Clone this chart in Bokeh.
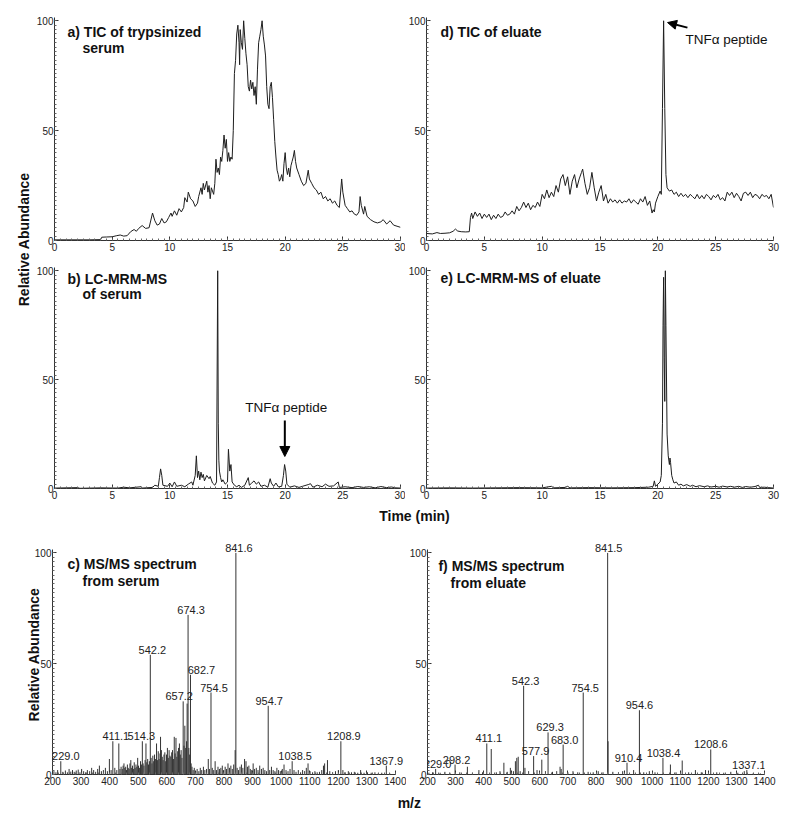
import math
from bokeh.plotting import figure
from bokeh.layouts import row, column
from bokeh.models import Label, Arrow, NormalHead, SingleIntervalTicker, Range1d
from bokeh.embed import file_html
from bokeh.resources import INLINE

FONT = "Liberation Sans"
INK = "#1e1e1e"

# ---------------- data: chromatograms (time in min, relative abundance %) ----------------
a_t = [0.0, 1.0, 2.0, 3.0, 4.0, 4.1, 4.5, 5.0, 5.4, 5.7,
       6.0, 6.3, 6.6, 6.9, 7.1, 7.3, 7.6, 7.9, 8.2, 8.5,
       8.7, 8.9, 9.1, 9.3, 9.5, 9.7, 9.9, 10.1, 10.2, 10.4,
       10.6, 10.8, 11.0, 11.2, 11.3, 11.5, 11.6, 11.8, 12.0, 12.2,
       12.4, 12.5, 12.7, 12.8, 12.9, 13.0, 13.2, 13.3, 13.4, 13.5,
       13.6, 13.8, 13.9, 14.0, 14.1, 14.2, 14.3, 14.4, 14.5, 14.6,
       14.7, 14.8, 14.9, 15.0, 15.1, 15.2, 15.3, 15.4, 15.5, 15.6,
       15.7, 15.8, 15.9, 16.0, 16.05, 16.1, 16.2, 16.3, 16.4, 16.5,
       16.6, 16.7, 16.8, 16.9, 17.0, 17.1, 17.2, 17.3, 17.4, 17.5,
       17.6, 17.7, 17.8, 17.9, 18.0, 18.1, 18.2, 18.3, 18.4, 18.5,
       18.6, 18.7, 18.8, 18.9, 19.0, 19.1, 19.2, 19.3, 19.4, 19.5,
       19.6, 19.7, 19.8, 19.9, 20.0, 20.1, 20.2, 20.3, 20.4, 20.5,
       20.6, 20.7, 20.8, 20.9, 21.0, 21.2, 21.4, 21.6, 21.8, 22.0,
       22.1, 22.3, 22.5, 22.7, 22.9, 23.1, 23.3, 23.5, 23.7, 23.9,
       24.1, 24.3, 24.5, 24.7, 24.9, 25.0, 25.2, 25.4, 25.6, 25.8,
       26.0, 26.2, 26.4, 26.5, 26.6, 26.8, 26.9, 27.1, 27.4, 27.7,
       28.0, 28.3, 28.5, 28.8, 29.1, 29.4, 29.7, 30.0]
a_y = [0.3, 0.3, 0.3, 0.3, 0.4, 1.5, 1.6, 1.7, 2.2, 2.5,
       2.0, 2.2, 4.0, 5.0, 4.2, 5.5, 6.8, 5.5, 5.8, 12.5,
       9.0, 7.0, 7.5, 10.0, 8.0, 8.5, 10.5, 12.5, 11.0, 13.5,
       11.5, 14.5, 13.0, 15.0, 19.5, 17.5, 22.0, 19.0, 18.0, 15.5,
       17.0, 20.0, 24.0, 21.0, 26.0, 23.0, 27.0, 22.0, 25.0, 19.0,
       24.0, 21.0, 26.0, 37.0, 31.0, 33.0, 30.0, 38.0, 36.0, 41.0,
       48.0, 42.0, 46.0, 36.0, 40.0, 36.0, 38.0, 37.0, 50.0, 76.0,
       82.0, 94.0, 98.0, 90.0, 80.0, 96.0, 90.0, 87.0, 100.0, 92.0,
       85.0, 80.0, 70.0, 68.0, 73.0, 69.0, 72.0, 66.0, 70.0, 62.0,
       78.0, 90.0, 93.0, 96.0, 100.0, 93.0, 89.0, 84.0, 70.0, 62.0,
       60.0, 70.0, 72.0, 65.0, 55.0, 45.0, 38.0, 32.0, 30.0, 27.0,
       28.0, 30.0, 27.0, 35.0, 40.0, 33.0, 30.0, 33.0, 29.0, 34.0,
       36.0, 38.0, 41.0, 36.0, 33.0, 30.0, 27.0, 25.0, 26.0, 32.0,
       28.0, 26.0, 24.0, 23.0, 21.0, 22.0, 19.0, 20.0, 18.0, 19.0,
       17.0, 18.0, 16.0, 15.0, 28.0, 22.0, 16.0, 14.5, 13.0, 13.5,
       12.0, 11.5, 13.0, 20.0, 16.0, 12.0, 15.5, 11.0, 9.5, 8.5,
       8.0, 8.5, 9.5, 7.5, 9.0, 7.0, 6.5, 6.0]

b_t = [0.0, 2.0, 2.2, 4.0, 5.5, 6.0, 6.5, 7.5, 7.6, 8.5,
       8.7, 9.0, 9.1, 9.2, 9.3, 9.4, 9.8, 10.0, 10.2, 10.4,
       10.6, 11.0, 11.3, 11.6, 11.9, 12.0, 12.2, 12.3, 12.4, 12.5,
       12.6, 12.7, 12.8, 12.9, 13.0, 13.2, 13.4, 13.5, 13.7, 13.9,
       14.05, 14.15, 14.2, 14.25, 14.3, 14.4, 14.5, 14.6, 14.8, 15.0,
       15.08, 15.2, 15.3, 15.4, 15.6, 15.8, 16.0, 16.2, 16.5, 16.8,
       16.9, 17.1, 17.3, 17.5, 17.7, 17.9, 18.2, 18.5, 18.7, 18.8,
       19.0, 19.2, 19.4, 19.7, 19.85, 19.95, 20.05, 20.15, 20.4, 20.8,
       21.2, 21.5, 22.0, 22.2, 22.4, 22.8, 23.2, 23.5, 23.8, 24.2,
       24.6, 24.7, 25.2, 25.8, 26.3, 26.8, 27.3, 27.8, 28.3, 28.8,
       29.2, 29.6, 30.0]
b_y = [0.2, 0.4, 0.1, 0.3, 0.2, 0.6, 0.3, 0.8, 0.2, 0.5,
       1.5, 1.0, 5.0, 9.0, 6.0, 1.5, 1.0, 2.5, 0.8, 3.0,
       1.0, 1.5, 0.8, 2.0, 3.0, 1.5, 6.0, 15.0, 5.0, 8.0,
       4.0, 7.5, 5.0, 6.5, 3.5, 6.0, 4.5, 5.5, 2.5, 1.5,
       3.0, 100.0, 30.0, 13.0, 8.0, 5.0, 3.0, 4.0, 2.0, 3.0,
       18.0, 8.0, 11.0, 3.0, 1.5, 0.8, 1.5, 0.5, 1.5, 5.0,
       1.5, 2.5, 3.5, 2.0, 3.0, 1.0, 1.5, 0.6, 4.5, 2.5,
       1.0, 2.5, 0.8, 1.0, 6.0, 11.0, 8.0, 2.0, 0.6, 1.2,
       0.5, 1.0, 1.8, 2.2, 0.6, 1.5, 0.8, 2.0, 1.0, 1.2,
       3.0, 0.5, 0.8, 0.4, 0.9, 0.5, 0.8, 0.3, 0.9, 0.4,
       0.7, 0.3, 0.2]

d_t = [0.0, 0.5, 0.9, 1.2, 1.6, 2.0, 2.3, 2.5, 2.7, 3.0,
       3.4, 3.7, 3.8, 3.9, 4.0, 4.2, 4.4, 4.6, 4.8, 5.0,
       5.2, 5.4, 5.6, 5.8, 6.0, 6.2, 6.4, 6.6, 6.8, 7.0,
       7.2, 7.4, 7.6, 7.8, 8.0, 8.2, 8.4, 8.6, 8.8, 9.0,
       9.2, 9.4, 9.6, 9.8, 10.0, 10.2, 10.4, 10.6, 10.8, 11.0,
       11.2, 11.4, 11.6, 11.8, 12.0, 12.2, 12.4, 12.6, 12.8, 13.0,
       13.2, 13.4, 13.5, 13.7, 13.9, 14.1, 14.3, 14.5, 14.7, 14.9,
       15.1, 15.3, 15.5, 15.7, 15.9, 16.1, 16.3, 16.5, 16.7, 16.9,
       17.1, 17.3, 17.5, 17.7, 17.9, 18.1, 18.3, 18.5, 18.7, 18.9,
       19.1, 19.3, 19.5, 19.6, 19.7, 19.8, 20.0, 20.2, 20.3, 20.4,
       20.5, 20.6, 20.7, 20.8, 21.0, 21.2, 21.4, 21.6, 21.8, 22.0,
       22.2, 22.4, 22.6, 22.8, 23.0, 23.2, 23.4, 23.6, 23.8, 24.0,
       24.2, 24.4, 24.6, 24.8, 25.0, 25.2, 25.4, 25.6, 25.8, 26.0,
       26.2, 26.4, 26.6, 26.8, 27.0, 27.2, 27.4, 27.6, 27.8, 28.0,
       28.2, 28.4, 28.6, 28.8, 29.0, 29.2, 29.4, 29.6, 29.8, 30.0]
d_y = [3.2, 3.0, 3.6, 3.2, 3.3, 3.5, 4.2, 5.2, 4.3, 4.0,
       3.9, 4.0, 10.5, 12.5, 10.0, 13.0, 11.0, 12.5, 10.0, 12.0,
       10.5, 12.0, 9.5, 11.5, 10.0, 12.0, 10.5, 11.0, 13.0, 11.5,
       12.0, 13.5, 12.0, 15.5, 13.5, 15.0, 17.5, 15.0, 17.0, 14.0,
       16.0, 15.0, 17.5, 15.5, 21.0, 19.0, 23.0, 19.5, 22.0, 20.0,
       25.0, 22.0, 28.0, 30.0, 25.0, 29.0, 21.0, 27.0, 30.0, 24.0,
       28.0, 31.0, 32.5, 26.0, 21.0, 24.0, 31.0, 24.0, 18.0, 22.0,
       25.0, 18.0, 21.0, 17.0, 19.0, 17.5, 18.5, 17.0, 18.5, 17.0,
       18.0, 17.5, 19.0, 17.0, 18.5, 17.5, 16.5, 19.0, 17.5, 20.0,
       16.0, 18.0, 12.5, 14.0, 13.0, 17.0, 20.0, 22.5, 21.0, 60.0,
       100.0, 60.0, 30.0, 24.0, 22.5, 23.0, 21.0, 22.0, 20.0, 21.5,
       20.0, 21.0, 19.5, 21.0, 20.0, 19.0, 21.0, 19.0, 20.5, 19.0,
       21.0, 20.0, 18.5, 20.5, 19.5, 21.0, 18.5, 19.5, 18.0, 22.0,
       20.5, 22.0, 19.5, 21.5, 20.0, 18.0, 21.5, 22.0, 20.5, 22.0,
       19.5, 21.0, 20.5, 19.0, 21.0, 20.0, 20.5, 19.0, 21.0, 15.0]

e_t = [0.0, 2.0, 4.0, 6.0, 8.0, 10.0, 10.8, 11.0, 12.0, 12.2,
       12.4, 14.0, 16.0, 18.0, 19.2, 19.6, 19.7, 19.8, 20.0, 20.2,
       20.3, 20.4, 20.45, 20.5, 20.55, 20.6, 20.65, 20.7, 20.8, 20.9,
       21.0, 21.05, 21.1, 21.2, 21.3, 21.4, 21.6, 21.8, 22.0, 22.2,
       22.5, 22.8, 23.0, 23.3, 23.6, 24.0, 24.3, 24.6, 25.0, 25.3,
       25.6, 26.0, 26.3, 26.6, 27.0, 27.3, 27.6, 28.0, 28.4, 28.7,
       28.8, 29.2, 29.6, 30.0]
e_y = [0.2, 0.3, 0.2, 0.3, 0.4, 0.3, 1.0, 0.3, 0.5, 1.0,
       0.3, 0.4, 0.3, 0.4, 0.6, 1.0, 3.5, 1.0, 2.0, 3.0,
       6.0, 30.0, 75.0, 97.0, 60.0, 40.0, 100.0, 75.0, 25.0, 15.0,
       11.0, 14.0, 12.0, 6.0, 4.0, 2.5, 3.0, 1.5, 2.0, 1.2,
       1.8, 1.0, 1.5, 0.8, 1.3, 0.8, 1.2, 0.7, 1.0, 0.6,
       1.1, 0.7, 1.0, 0.6, 1.0, 0.5, 0.9, 0.6, 0.9, 1.5,
       0.5, 0.6, 0.4, 0.2]

# ---------------- data: MS/MS spectra (m/z, relative abundance %) ----------------
c_mz = [205, 212, 218, 229.0, 236, 245, 252, 258, 264, 270,
        276, 283, 290, 296, 302, 309, 316, 322, 330, 337,
        344, 351, 358, 364, 371, 378, 385, 392, 399, 405,
        411.1, 418, 425, 432, 436, 440, 444, 447, 450, 453,
        456, 459, 462, 465, 468, 471, 474, 477, 480, 483,
        486, 489, 492, 495, 498, 501, 504, 508, 511, 514.3,
        517, 520, 524, 527, 530, 533, 536, 539, 542.2, 545,
        548, 551, 554, 557, 560, 564, 567, 570, 573, 576,
        578, 581, 584, 587, 590, 593, 596, 599, 602, 605,
        608, 611, 614, 617, 620, 623, 626, 629, 632, 635,
        638, 641, 644, 647, 650, 653, 657.2, 660, 663, 666,
        669, 671, 674.3, 677, 680, 682.7, 685, 688, 692, 696,
        701, 706, 712, 717, 722, 728, 733, 739, 745, 749,
        754.5, 759, 764, 769, 774, 779, 784, 789, 794, 799,
        804, 809, 814, 819, 824, 829, 834, 839, 841.6, 846,
        851, 856, 861, 866, 872, 877, 882, 887, 892, 897,
        902, 907, 913, 919, 925, 931, 937, 943, 949, 954.7,
        960, 966, 972, 978, 985, 991, 997, 1004, 1010, 1017,
        1024, 1031, 1038.5, 1045, 1052, 1060, 1068, 1075, 1082, 1088,
        1094, 1101, 1110, 1118, 1126, 1134, 1142, 1148, 1152, 1162,
        1170, 1180, 1190, 1200, 1208.9, 1216, 1224, 1235, 1246, 1256,
        1268, 1278, 1290, 1302, 1315, 1328, 1340, 1352, 1367.9, 1380]
c_int = [1.5, 1.0, 2.0, 6.0, 1.2, 1.8, 1.0, 2.5, 1.3, 2.0,
         1.2, 1.8, 2.2, 1.0, 2.5, 1.5, 1.0, 2.0, 1.5, 3.0,
         2.0, 1.2, 2.5, 4.0, 1.5, 2.0, 3.0, 1.5, 7.0, 2.0,
         15.0, 3.0, 2.0, 14.0, 2.5, 3.5, 2.5, 4.0, 5.0, 3.0,
         3.5, 2.0, 4.5, 3.0, 2.5, 5.0, 6.5, 3.0, 4.0, 2.5,
         5.5, 3.0, 4.5, 3.5, 7.5, 4.0, 3.0, 6.0, 4.5, 15.0,
         5.0, 4.0, 6.5, 14.0, 5.5, 7.0, 4.5, 6.0, 54.0, 7.5,
         5.0, 8.5, 6.0, 9.0, 7.0, 14.0, 6.5, 10.5, 7.0, 9.5,
         17.0, 11.0, 8.0, 6.5, 9.0, 10.0, 6.0, 9.0, 12.0, 7.5,
         11.0, 8.5, 8.0, 10.0, 11.0, 7.0, 17.0, 9.5, 16.5, 8.0,
         10.5, 12.0, 14.0, 9.0, 11.0, 7.5, 33.0, 13.0, 22.0, 12.0,
         15.0, 32.0, 72.0, 12.0, 9.0, 45.0, 5.0, 3.5, 2.0, 3.0,
         1.5, 2.5, 1.5, 3.0, 2.0, 3.5, 2.0, 2.5, 7.0, 2.5,
         37.0, 3.0, 2.0, 6.0, 2.0, 3.5, 2.5, 3.0, 4.0, 2.0,
         3.5, 2.5, 5.0, 3.0, 4.0, 2.5, 4.5, 11.0, 100.0, 3.0,
         2.0, 3.5, 4.5, 3.0, 7.0, 6.0, 3.5, 4.0, 2.5, 2.0,
         5.0, 2.5, 3.0, 2.0, 4.0, 2.5, 3.0, 2.0, 1.5, 31.0,
         2.0, 3.5, 2.0, 1.5, 3.0, 2.0, 1.5, 2.5, 4.5, 2.0,
         1.5, 2.5, 6.0, 2.0, 1.2, 2.0, 1.0, 2.0, 1.5, 3.0,
         5.0, 1.5, 1.0, 1.5, 1.0, 1.2, 2.0, 4.0, 5.0, 6.5,
         1.5, 1.0, 1.5, 2.0, 15.0, 2.0, 1.0, 1.5, 1.0, 1.2,
         0.8, 2.0, 0.8, 1.0, 0.8, 1.0, 0.7, 0.8, 4.0, 0.5]
c_labels = [229.0, 411.1, 514.3, 542.2, 657.2, 674.3, 682.7, 754.5, 841.6, 954.7, 1038.5, 1208.9, 1367.9]

f_mz = [205, 218, 229.0, 245, 262, 280, 298.2, 315, 342, 360,
        383, 396, 411.1, 427, 445, 458, 472, 484, 495, 506,
        513, 518, 523, 530, 542.3, 547, 560, 577.9, 590, 607,
        620, 629.3, 645, 660, 672, 676, 683.0, 700, 718, 735,
        754.5, 772, 790, 808, 825, 841.5, 843, 860, 880, 895,
        910.4, 934, 954.6, 970, 990, 1010, 1038.4, 1065, 1085, 1107,
        1130, 1154, 1175, 1190, 1208.6, 1230, 1255, 1280, 1305, 1328,
        1337.1, 1360, 1385]
f_int = [0.8, 1.0, 2.5, 0.8, 1.2, 0.8, 4.5, 1.0, 3.5, 0.8,
         2.0, 1.0, 14.0, 11.5, 1.0, 1.5, 5.3, 1.2, 3.0, 1.5,
         6.0, 7.5, 8.0, 1.5, 40.0, 3.0, 1.5, 8.3, 2.0, 6.7,
         1.5, 19.0, 1.2, 1.5, 3.5, 2.5, 13.5, 1.0, 1.5, 1.0,
         37.0, 1.2, 1.0, 1.5, 1.0, 100.0, 15.0, 1.2, 1.0, 1.5,
         5.3, 2.0, 29.0, 1.0, 1.5, 1.0, 7.5, 4.5, 1.0, 6.3,
         1.0, 2.0, 1.0, 2.0, 11.3, 1.0, 0.8, 1.2, 0.8, 1.5,
         2.0, 0.7, 0.5]
f_labels = [229.0, 298.2, 411.1, 542.3, 577.9, 629.3, 683.0, 754.5, 841.5, 910.4, 954.6, 1038.4, 1208.6, 1337.1]

# label horizontal nudges in screen pixels (styling, kept apart from the data)
c_label_dx = [5, 3, -1, 2, -4, 3, 11, 3, 3, 1, 3, 3, 0]
f_label_dx = [2, 1.5, 2, 2, 2, 2, 1.5, 2, 1, 1.5, 0, 0.5, 0, 2]


# ---------------- helpers ----------------
def base_fig(w, h, xr, yr, bl, br, bt, bb, xint, xminor, xbounds=None):
    p = figure(width=w, height=h, output_backend="svg", toolbar_location=None,
               x_range=Range1d(*xr), y_range=Range1d(*yr),
               min_border_left=bl, min_border_right=br,
               min_border_top=bt, min_border_bottom=bb)
    p.grid.visible = False
    p.outline_line_color = None
    p.background_fill_color = "white"
    p.border_fill_color = "white"
    p.xaxis.ticker = SingleIntervalTicker(interval=xint, num_minor_ticks=xminor)
    p.yaxis.ticker = SingleIntervalTicker(interval=50, num_minor_ticks=25)
    p.yaxis.bounds = (0, 101.5)
    if xbounds is not None:
        p.xaxis.bounds = xbounds
    for ax in list(p.xaxis) + list(p.yaxis):
        ax.axis_line_color = "#333333"
        ax.major_tick_line_color = "#333333"
        ax.minor_tick_line_color = "#666666"
        ax.major_tick_in = 4
        ax.major_tick_out = 0
        ax.minor_tick_in = 2
        ax.minor_tick_out = 0
        ax.major_label_text_font = FONT
        ax.major_label_text_font_size = "10px"
        ax.major_label_text_color = "#222222"
        ax.major_label_standoff = 2
    p.yaxis.major_label_standoff = 1
    return p


def add_text(p, x, y, txt, bold=True, size="14px", align="left", baseline="middle", **kw):
    p.add_layout(Label(x=x, y=y, text=txt, text_font=FONT, text_font_size=size,
                       text_font_style="bold" if bold else "normal", text_color="#111111",
                       text_align=align, text_baseline=baseline, **kw))


def strip(w, h):
    p = figure(width=w, height=h, output_backend="svg", toolbar_location=None,
               x_range=Range1d(0, 1), y_range=Range1d(0, 1),
               x_axis_type=None, y_axis_type=None, min_border=0)
    p.outline_line_color = None
    p.grid.visible = False
    p.background_fill_color = "white"
    p.border_fill_color = "white"
    return p


def spectrum(p, mz, inten, labels, dxs):
    p.segment(x0=mz, y0=[0] * len(mz), x1=mz, y1=inten, line_color="#333333", line_width=1)
    lookup = dict(zip(mz, inten))
    for m, dx in zip(labels, dxs):
        p.add_layout(Label(x=m, y=lookup[m], text=f"{m:.1f}", x_offset=dx, y_offset=1,
                           text_font=FONT, text_font_size="11px", text_color="#222222",
                           text_align="center", text_baseline="bottom"))


CHROM_Y = (0, 101.5)
SPEC_Y = (0, 108.3)

# ---------------- panels ----------------
pa = base_fig(372, 256, (0, 30), CHROM_Y, 21, 5, 17, 16, 5, 10)
pa.line(a_t, a_y, line_color=INK, line_width=1)
add_text(pa, 1.13, 94.7, "a) TIC of trypsinized")
add_text(pa, 2.43, 87.4, "serum")

pd_ = base_fig(395, 256, (0, 30), CHROM_Y, 21, 27, 17, 16, 5, 10)
pd_.line(d_t, d_y, line_color=INK, line_width=1)
add_text(pd_, 1.21, 94.7, "d) TIC of eluate")
add_text(pd_, 22.39, 91.5, "TNFα peptide", bold=False, size="13.5px")
pd_.add_layout(Arrow(end=NormalHead(size=9, fill_color="black", line_color="black"),
                     x_start=22.56, y_start=96.9, x_end=20.84, y_end=99.2,
                     line_color="black", line_width=2))

pb = base_fig(372, 250, (0, 30), CHROM_Y, 21, 5, 11, 18, 5, 10)
pb.line(b_t, b_y, line_color=INK, line_width=1)
add_text(pb, 1.13, 96.0, "b) LC-MRM-MS")
add_text(pb, 2.43, 89.1, "of serum")
add_text(pb, 20.1, 37.2, "TNFα peptide", bold=False, size="13.5px", align="center")
pb.add_layout(Arrow(end=NormalHead(size=10, fill_color="black", line_color="black"),
                    x_start=19.97, y_start=31.2, x_end=19.97, y_end=14.7,
                    line_color="black", line_width=2))

pe = base_fig(395, 250, (0, 30), CHROM_Y, 21, 27, 11, 18, 5, 10)
pe.line(e_t, e_y, line_color=INK, line_width=1)
add_text(pe, 1.21, 96.5, "e) LC-MRM-MS of eluate")

pc = base_fig(406, 266, (200, 1435), SPEC_Y, 52, 1, 10, 16, 100, 5, xbounds=(200, 1400))
spectrum(pc, c_mz, c_int, c_labels, c_label_dx)
add_text(pc, 252.5, 95.2, "c) MS/MS spectrum")
add_text(pc, 305, 87.5, "from serum")
pc.yaxis.axis_label = "Relative Abundance"
pc.yaxis.axis_label_text_font = FONT
pc.yaxis.axis_label_text_font_size = "14px"
pc.yaxis.axis_label_text_font_style = "bold"
pc.yaxis.axis_label_text_color = "#111111"
pc.yaxis.axis_label_standoff = -10

pf = base_fig(394, 266, (200, 1400), SPEC_Y, 21, 36, 10, 16, 100, 5)
spectrum(pf, f_mz, f_int, f_labels, f_label_dx)
add_text(pf, 239, 93.9, "f) MS/MS spectrum")
add_text(pf, 282, 86.6, "from eluate")

# shared axis titles
ys = strip(33, 506)
add_text(ys, 0.727, 0.528, "Relative Abundance", align="center", angle=math.pi / 2)

ts = strip(800, 18)
add_text(ts, 0.5175, 0.5, "Time (min)", align="center")

ms = strip(800, 26)
add_text(ms, 0.511, 0.538, "m/z", align="center")

layout = column(
    row(ys, column(row(pa, pd_), row(pb, pe))),
    ts,
    row(pc, pf),
    ms,
)

open("out.html", "w").write(file_html(layout, INLINE, "TNF-alpha peptide LC-MS"))
